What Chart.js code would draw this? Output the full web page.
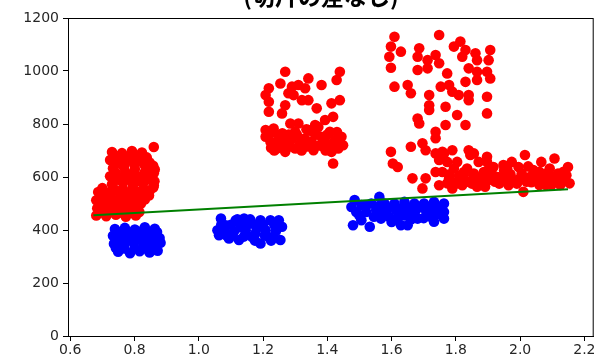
<!DOCTYPE html>
<html>
<head>
<meta charset="utf-8">
<script src="https://cdn.jsdelivr.net/npm/chart.js@4/dist/chart.umd.min.js"></script>
<style>
  html, body { margin: 0; padding: 0; background: #fff; }
  #wrap { width: 599px; height: 361px; }
</style>
</head>
<body>
<div id="wrap"><canvas id="chart" width="599" height="361"></canvas></div>
<script>
// ---- data ----
const titleText = '(切片の差なし)';

const redX = [
  // group around x = 0.8
  0.730, 0.761, 0.792, 0.823, 0.860, 0.724, 0.755, 0.786, 0.816, 0.847,
  0.733, 0.767, 0.801, 0.835, 0.863, 0.724, 0.755, 0.786, 0.816, 0.854,
  0.730, 0.764, 0.795, 0.826, 0.860, 0.687, 0.718, 0.749, 0.779, 0.810, 0.847,
  0.681, 0.708, 0.739, 0.770, 0.801, 0.832, 0.684, 0.715, 0.745, 0.776, 0.807, 0.812,
  0.681, 0.712, 0.742, 0.773, 0.804,
  0.745, 0.776, 0.807, 0.838, 0.740, 0.770, 0.800, 0.830, 0.858,
  0.740, 0.771, 0.800, 0.832, 0.860, 0.740, 0.771, 0.802, 0.835, 0.862,
  0.700, 0.733, 0.764, 0.795, 0.828, 0.858, 0.695, 0.725, 0.756, 0.787, 0.818, 0.845,
  0.695, 0.727, 0.758, 0.790, 0.820, 0.696, 0.728, 0.760, 0.790, 0.815,
  // group around x = 1.3
  1.269, 1.439, 1.429, 1.341, 1.254, 1.218, 1.208, 1.290, 1.310, 1.331,
  1.382, 1.279, 1.295, 1.321, 1.341, 1.439, 1.413, 1.218, 1.269, 1.367,
  1.218, 1.259, 1.418, 1.393, 1.285, 1.310, 1.362,
  1.208, 1.233, 1.208, 1.223, 1.249, 1.243, 1.274, 1.269, 1.300, 1.300,
  1.321, 1.341, 1.351, 1.357, 1.372, 1.382, 1.387, 1.408, 1.413, 1.424,
  1.444, 1.449, 1.434, 1.398, 1.331, 1.259, 1.238, 1.418,
  1.290, 1.315, 1.365, 1.235, 1.395, 1.260,
  1.220, 1.250, 1.280, 1.305, 1.330, 1.355, 1.375, 1.400, 1.430, 1.440,
  1.225, 1.285, 1.320, 1.345, 1.410, 1.335, 1.265,
  // group around x = 1.8
  1.609, 1.748, 1.598, 1.629, 1.593, 1.598, 1.686, 1.681, 1.712, 1.737,
  1.748, 1.681, 1.712, 1.773, 1.794, 1.814, 1.830, 1.820, 1.861, 1.866,
  1.907, 1.902, 1.840, 1.866, 1.897, 1.907, 1.830, 1.866, 1.609, 1.650,
  1.660, 1.717, 1.717, 1.717, 1.753, 1.779, 1.789, 1.809, 1.840, 1.840,
  1.897, 1.768, 1.681, 1.686, 1.804, 1.897, 1.768, 1.830, 1.737, 1.737,
  1.660, 1.696, 1.706, 1.598, 1.604, 1.619, 1.737, 1.758, 1.789, 1.748,
  1.773, 1.840, 1.856, 1.871, 1.804, 1.737, 1.794, 1.835, 1.897, 1.907,
  1.665, 1.706, 1.696, 1.748, 1.779, 1.804, 1.789, 1.825, 1.856, 1.866,
  1.891, 1.820,
  1.763, 1.845, 1.897, 2.015, 2.107, 2.149, 2.066, 1.974, 1.948, 1.917,
  1.758, 1.825, 1.856, 1.887, 1.912, 1.995, 2.005, 2.041, 2.051, 2.092,
  2.118, 2.144, 2.154, 2.123, 2.087, 2.056, 2.020, 1.984, 1.948, 1.922,
  1.876, 1.835, 1.804, 1.773, 2.010, 1.964, 1.891, 2.097,
  1.930, 1.970, 2.030, 2.070, 2.110, 2.130, 1.990, 2.060, 2.140, 1.950, 2.080,
  1.780, 1.810, 1.850, 1.880, 1.905, 1.935, 1.960, 2.000, 2.035, 2.080,
  2.100, 2.125, 2.135, 1.905, 1.960, 2.025, 2.060
];
const redY = [
  694, 690, 698, 692, 713, 664, 660, 668, 662, 655,
  633, 638, 630, 636, 628, 603, 598, 606, 600, 608,
  573, 578, 570, 575, 568, 543, 540, 546, 538, 544, 548,
  512, 516, 510, 514, 508, 515, 482, 485, 480, 484, 478, 490,
  455, 452, 458, 450, 455,
  678, 676, 680, 674, 648, 650, 645, 648, 642,
  618, 620, 615, 618, 614, 588, 590, 585, 588, 584,
  558, 560, 556, 558, 555, 560, 528, 526, 530, 527, 528, 530,
  497, 498, 495, 497, 500, 467, 468, 465, 466, 468,
  997, 997, 966, 972, 953, 935, 909, 941, 947, 935,
  947, 916, 909, 890, 890, 890, 878, 884, 871, 859,
  846, 840, 827, 815, 802, 802, 796,
  777, 783, 752, 733, 758, 708, 727, 695, 771, 708,
  739, 777, 733, 701, 789, 752, 714, 771, 695, 739,
  752, 720, 708, 727, 714, 739, 727, 651,
  745, 725, 760, 700, 700, 765,
  760, 745, 760, 760, 745, 770, 720, 760, 770, 730,
  710, 715, 700, 715, 720, 780, 720,
  1129, 1136, 1092, 1073, 1054, 1012, 1086, 1054, 1041, 1060,
  1029, 1004, 1010, 991, 1092, 1111, 1079, 1054, 1067, 1041,
  1079, 1041, 1010, 997, 997, 972, 959, 966, 941, 947,
  916, 909, 871, 853, 941, 947, 922, 909, 909, 890,
  903, 865, 821, 802, 834, 840, 796, 796, 771, 746,
  714, 727, 701, 695, 651, 638, 689, 695, 701, 664,
  657, 701, 689, 657, 657, 619, 632, 632, 657, 619,
  595, 595, 557, 569, 595, 582, 557, 607, 595, 563,
  576, 569,
  689, 683, 676, 683, 670, 638, 657, 657, 645, 638,
  619, 619, 613, 619, 613, 638, 613, 626, 607, 632,
  613, 607, 576, 582, 588, 582, 582, 588, 595, 582,
  588, 582, 576, 576, 544, 569, 563, 569,
  600, 610, 600, 595, 590, 600, 575, 570, 585, 625, 612,
  610, 605, 575, 600, 590, 575, 600, 595, 580, 570,
  600, 570, 620, 640, 630, 640, 620
];

const blueX = [
  // group around x = 0.8
  0.739, 0.770, 0.801, 0.832, 0.863, 0.733, 0.764, 0.795, 0.826, 0.857, 0.878,
  0.736, 0.767, 0.798, 0.829, 0.860, 0.881, 0.749, 0.786, 0.816, 0.847, 0.872,
  0.750, 0.782, 0.812, 0.845, 0.870, 0.748, 0.780, 0.810, 0.842, 0.870,
  0.742, 0.768, 0.800, 0.832, 0.860,
  // group around x = 1.15
  1.069, 1.058, 1.084, 1.104, 1.115, 1.141, 1.146, 1.166, 1.166, 1.192,
  1.192, 1.208, 1.223, 1.249, 1.259, 1.254, 1.233, 1.125, 1.094, 1.063,
  1.130, 1.180, 1.215, 1.100,
  1.080, 1.110, 1.150, 1.175, 1.200, 1.235, 1.240, 1.085, 1.120, 1.160,
  1.205, 1.140, 1.175, 1.225, 1.070,
  // group around x = 1.6
  1.485, 1.562, 1.475, 1.506, 1.537, 1.578, 1.609, 1.640, 1.671, 1.701,
  1.732, 1.763, 1.763, 1.737, 1.706, 1.676, 1.645, 1.614, 1.583, 1.552,
  1.521, 1.490, 1.480, 1.506, 1.532, 1.567, 1.619, 1.629, 1.650, 1.681,
  1.732, 1.763, 1.722, 1.593,
  1.500, 1.545, 1.560, 1.590, 1.625, 1.655, 1.690, 1.720, 1.750, 1.600,
  1.660, 1.700, 1.640, 1.520, 1.745, 1.670, 1.570
];
const blueY = [
  404, 408, 402, 410, 405, 378, 372, 380, 375, 382, 370,
  348, 344, 350, 342, 347, 352, 318, 312, 320, 315, 322,
  392, 390, 394, 390, 392, 362, 360, 364, 360, 362,
  332, 330, 332, 330, 334,
  443, 399, 418, 380, 437, 443, 399, 425, 374, 437,
  349, 399, 437, 437, 412, 362, 374, 362, 368, 380,
  410, 405, 375, 420,
  400, 395, 420, 385, 420, 420, 395, 380, 440, 440,
  380, 375, 360, 360, 420,
  513, 525, 487, 494, 500, 500, 500, 506, 500, 500,
  506, 500, 468, 475, 475, 475, 468, 475, 468, 475,
  468, 468, 418, 437, 412, 443, 443, 418, 418, 443,
  431, 443, 450, 450,
  455, 450, 490, 485, 480, 485, 488, 485, 485, 430,
  440, 445, 455, 490, 460, 460, 470
];

// fitted line (two ends)
const lineX = [0.672, 2.149];
const lineY = [456, 554];

const xTickValues = [0.6, 0.8, 1.0, 1.2, 1.4, 1.6, 1.8, 2.0, 2.2];
const yTickValues = [0, 200, 400, 600, 800, 1000, 1200];

// ---- build chart ----
function toPoints(xs, ys) {
  return xs.map((x, i) => ({ x: x, y: ys[i] }));
}

const tickFont = { family: 'DejaVu Sans', size: 14 };
const textColor = '#262626';

// box around the plot area plus the cut-off title
const framePlugin = {
  id: 'frame',
  afterDraw(chart) {
    const { ctx, chartArea } = chart;
    ctx.save();
    ctx.strokeStyle = '#000';
    ctx.lineWidth = 1;
    ctx.strokeRect(chartArea.left + 0.5, chartArea.top + 0.5,
      chartArea.right - chartArea.left - 1, chartArea.bottom - chartArea.top);
    ctx.fillStyle = '#000';
    ctx.font = 'bold 23px "Noto Sans CJK JP"';
    ctx.textAlign = 'center';
    ctx.textBaseline = 'alphabetic';
    ctx.fillText(titleText, 321, 5);
    ctx.restore();
  }
};

new Chart(document.getElementById('chart'), {
  type: 'scatter',
  data: {
    datasets: [
      {
        type: 'line',
        data: toPoints(lineX, lineY),
        borderColor: '#008000',
        borderWidth: 2,
        pointRadius: 0,
        fill: false,
        order: 0
      },
      {
        data: toPoints(blueX, blueY),
        backgroundColor: '#0000ff',
        borderColor: '#0000ff',
        borderWidth: 0,
        pointRadius: 5.3,
        order: 1
      },
      {
        data: toPoints(redX, redY),
        backgroundColor: '#ff0000',
        borderColor: '#ff0000',
        borderWidth: 0,
        pointRadius: 5.3,
        order: 2
      }
    ]
  },
  options: {
    responsive: false,
    animation: false,
    devicePixelRatio: 1,
    layout: { padding: { top: 18, right: 1, left: 0, bottom: 0 } },
    plugins: {
      legend: { display: false },
      tooltip: { enabled: false },
      title: { display: false }
    },
    scales: {
      x: {
        type: 'linear',
        min: 0.593,
        max: 2.229,
        afterFit: scale => { scale.height = 25; },
        afterBuildTicks: axis => { axis.ticks = xTickValues.map(v => ({ value: v })); },
        grid: { drawOnChartArea: false, drawTicks: true, tickLength: 5, color: '#000' },
        border: { display: true, color: '#000', width: 1 },
        ticks: {
          font: tickFont,
          color: textColor,
          padding: 1,
          maxRotation: 0,
          autoSkip: false,
          callback: v => v.toFixed(1)
        }
      },
      y: {
        type: 'linear',
        min: 0,
        max: 1200,
        afterFit: scale => { scale.width = 68; },
        afterBuildTicks: axis => { axis.ticks = yTickValues.map(v => ({ value: v })); },
        grid: { drawOnChartArea: false, drawTicks: true, tickLength: 5, color: '#000' },
        border: { display: true, color: '#000', width: 1 },
        ticks: {
          font: tickFont,
          color: textColor,
          padding: 4,
          autoSkip: false,
          callback: v => String(v)
        }
      }
    }
  },
  plugins: [framePlugin]
});
</script>
</body>
</html>
